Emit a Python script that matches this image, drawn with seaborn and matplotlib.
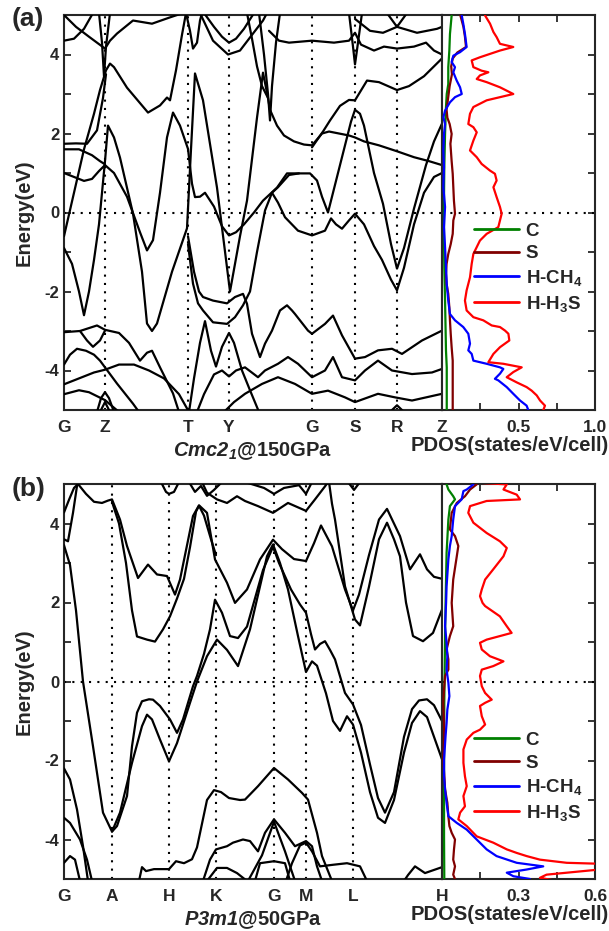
import matplotlib
matplotlib.use("Agg")
import matplotlib.pyplot as plt
import seaborn as sns

sns.set_style("ticks")
plt.rcParams["font.family"] = ["Liberation Sans", "DejaVu Sans"]
plt.rcParams["font.weight"] = "bold"
plt.rcParams["axes.unicode_minus"] = False
plt.rcParams["mathtext.fontset"] = "custom"
plt.rcParams["mathtext.rm"] = "Liberation Sans:bold"
plt.rcParams["mathtext.it"] = "Liberation Sans:italic:bold"
plt.rcParams["mathtext.bf"] = "Liberation Sans:italic:bold"

# ---------------- panel (a) data ----------------
kpos_a = [0, 41, 124, 165, 248, 291, 333, 378]
klab_a = ["G", "Z", "T", "Y", "G", "S", "R", "Z"]
title_a = r"$\mathbf{Cmc2_1}$@150GPa"

bands_a = [
    [(0,5.0),(12,4.7),(25,4.45),(33,4.3),(41,4.15),(46,4.35),(53,4.53),(69,4.86),(88,4.78),(106,4.94),(119,5.05)],
    [(0,4.35),(10,4.4),(20,4.65),(29,5.05)],
    [(35,5.05),(38,4.3),(40,3.45),(42,4.2),(46,5.05)],
    [(0,-0.6),(10,0.5),(20,1.6),(30,2.5),(36,3.1),(42,3.6),(46,3.77),(50,3.68),(63,3.16),(84,2.53),(96,2.71),(103,2.91),(106,2.84),(112,3.6),(118,4.5),(122,5.05)],
    [(0,1.74),(12,1.75),(23,1.74),(33,2.08),(39,2.9),(42,3.5)],
    [(0,1.6),(15,1.6),(28,1.45),(36,1.3),(41,1.22)],
    [(0,1.0),(10,0.9),(20,0.8),(28,0.85),(35,1.05),(41,1.2),(50,1.0),(63,0.4),(76,-0.5),(83,-0.96),(89,-0.7),(96,0.5),(103,1.9),(109,2.53),(116,2.2),(124,1.61),(128,0.73),(131,0.39),(136,0.4),(141,0.5),(150,0.15),(158,-0.35),(165,-0.58),(172,-0.5),(180,-0.3),(190,0.0),(199,0.3),(213,0.63),(223,0.99),(246,0.99),(253,0.81),(258,0.4),(264,0.0),(272,0.8),(280,1.6),(287,2.3),(291,2.6),(296,2.5),(300,2.2),(310,1.0),(319,0.22),(327,-0.8),(333,-1.42),(340,-0.9),(350,0.1),(362,1.2),(370,1.8),(378,2.25)],
    [(0,-0.9),(8,-1.3),(15,-2.0),(20,-2.6),(25,-2.0),(30,-1.2),(35,-0.3),(38,0.5),(41,1.3),(44,2.2),(50,1.9),(56,1.39),(69,-0.03),(78,-1.5),(83,-2.81),(88,-3.0),(93,-2.81),(108,-1.5),(123,-0.4),(127,1.6),(131,3.52),(139,2.84),(153,0.63),(166,-2.0),(176,-0.6),(183,0.3),(193,2.4),(199,3.54),(204,2.9),(206,2.6),(213,2.2),(220,1.95),(230,1.8),(240,1.72),(248,1.7),(258,2.0),(265,2.05),(275,2.0),(285,1.95),(291,1.9),(300,1.8),(315,1.7),(333,1.55),(350,1.4),(365,1.3),(378,1.2)],
    [(183,5.05),(188,4.4),(193,3.7),(198,3.2),(204,2.9)],
    [(248,1.65),(259,2.05),(266,2.33),(276,2.7),(285,2.85),(291,2.84),(303,3.34),(315,3.3),(333,3.1),(345,3.2),(360,3.45),(370,3.7),(378,3.9)],
    [(208,0.5),(214,0.25),(221,-0.12),(234,-0.46),(248,-0.58),(261,-0.46),(267,-0.15),(272,-0.3),(278,-0.41),(285,-0.2),(291,-0.03),(300,-0.3),(310,-0.85),(318,-1.2),(327,-1.7),(333,-1.97),(340,-1.4),(350,-0.3),(360,0.5),(370,0.9),(378,1.0)],
    [(124,-0.8),(129,-1.8),(134,-2.3),(139,-2.48),(149,-2.78),(163,-2.82),(171,-2.65),(179,-2.35),(186,-2.0),(193,-1.0),(201,0.05),(208,0.5),(214,0.64),(225,0.95),(235,0.99)],
    [(124,-0.6),(130,-1.5),(135,-2.0),(139,-2.14),(149,-2.23),(163,-2.3),(171,-2.14),(179,-2.06),(183,-2.31),(188,-3.07),(196,-3.66),(201,-3.32),(208,-2.99),(216,-2.48),(223,-2.35),(228,-2.48),(231,-2.57),(244,-2.99),(248,-3.07),(261,-2.82),(269,-2.61),(278,-3.11),(291,-3.7),(301,-3.66),(314,-3.49),(328,-3.45),(338,-3.58),(358,-3.24),(378,-2.99)],
    [(0,-3.03),(16,-3.0),(33,-2.86),(41,-2.97),(55,-3.05),(65,-3.3),(76,-3.75),(83,-3.55),(88,-3.5),(96,-3.92),(109,-4.58),(115,-5.05)],
    [(16,-3.0),(23,-3.24),(29,-3.4),(36,-3.24),(41,-2.99)],
    [(0,-3.85),(6,-3.6),(13,-3.45),(22,-3.5),(30,-3.6),(36,-3.75),(53,-4.33),(69,-4.84),(75,-5.05)],
    [(0,-4.35),(15,-4.2),(30,-4.05),(41,-3.98),(55,-3.85),(70,-3.85),(85,-4.0),(100,-4.2),(115,-4.6),(125,-5.05)],
    [(0,-4.6),(15,-4.5),(25,-4.55),(41,-4.75),(55,-5.05)],
    [(33,-5.05),(37,-4.7),(41,-4.55),(45,-4.7),(50,-5.05)],
    [(36,-5.05),(41,-4.8),(46,-5.05)],
    [(133,-5.05),(140,-4.6),(150,-4.1),(158,-4.0),(165,-4.15),(172,-4.0),(181,-3.92),(194,-4.17),(201,-4.0),(214,-3.83),(224,-3.66),(234,-3.83),(248,-4.17),(261,-4.0),(269,-3.66),(278,-4.17),(291,-4.25),(301,-4.0),(314,-3.75),(328,-4.0),(348,-4.09),(368,-4.05),(378,-3.96)],
    [(160,-5.05),(170,-4.8),(181,-4.59),(198,-4.34),(214,-4.17),(231,-4.34),(248,-4.59),(264,-4.51),(281,-4.68),(291,-4.8),(314,-4.59),(331,-4.68),(348,-4.76),(378,-4.59)],
    [(326,-5.05),(333,-4.88),(340,-5.05)],
    [(125,-5.05),(130,-4.2),(136,-3.3),(141,-2.75),(147,-3.5),(152,-3.9),(158,-3.4),(165,-3.05),(170,-3.3),(178,-4.0),(186,-4.5),(195,-5.05)],
    [(205,4.6),(215,4.35),(225,4.3),(248,4.35),(270,4.3),(285,4.35),(291,4.55),(297,4.25),(310,4.1),(320,4.2),(333,4.15),(350,4.2),(362,4.3),(370,4.1),(378,4.0)],
    [(291,4.9),(306,4.6),(319,4.55),(333,4.7),(353,4.55),(373,4.65),(378,4.7)],
    [(122,5.05),(126,4.6),(129,4.15),(133,4.3),(136,4.86),(138,5.05)],
    [(136,5.05),(149,4.35),(164,4.0),(176,4.1),(189,4.53),(199,4.86),(203,5.05)],
    [(140,5.05),(150,4.7),(158,4.45),(165,4.3),(172,4.4),(180,4.65),(190,5.05)],
    [(195,5.05),(200,4.0),(204,3.0),(206,2.33),(208,3.2),(212,4.3),(216,5.05)],
    [(285,5.05),(289,4.2),(291,3.75),(294,4.3),(298,5.05)],
    [(323,5.05),(333,4.7),(343,5.05)],
]

dos_a_C = [(0.063,4.99),(0.052,4.52),(0.048,4.1),(0.041,3.68),(0.041,3.25),(0.031,3.0),(0.026,2.67),(0.02,1.99),(0.015,1.15),(0.013,0.3),(0.013,-0.54),(0.015,-1.38),(0.02,-2.23),(0.024,-3.07),(0.026,-3.49),(0.031,-3.92),(0.031,-4.34),(0.031,-5.0)]
dos_a_S = [(0.12,4.99),(0.14,4.7),(0.15,4.45),(0.157,4.19),(0.1,4.05),(0.07,3.9),(0.06,3.7),(0.065,3.5),(0.05,3.2),(0.04,2.9),(0.03,2.6),(0.035,2.4),(0.05,2.24),(0.063,1.99),(0.055,1.74),(0.063,1.3),(0.07,0.98),(0.074,0.64),(0.078,0.3),(0.085,-0.03),(0.074,-0.2),(0.07,-0.54),(0.057,-0.8),(0.041,-1.05),(0.03,-1.3),(0.026,-1.55),(0.03,-1.81),(0.041,-2.06),(0.048,-2.4),(0.052,-2.73),(0.057,-3.07),(0.063,-3.41),(0.07,-3.75),(0.07,-4.1),(0.07,-4.42),(0.07,-4.76),(0.07,-5.0)]
dos_a_HCH4 = [(0.129,4.99),(0.139,4.78),(0.150,4.52),(0.161,4.19),(0.118,4.06),(0.074,3.97),(0.063,3.81),(0.085,3.68),(0.074,3.55),(0.096,3.34),(0.118,3.17),(0.129,3.00),(0.085,2.92),(0.052,2.79),(0.020,2.58),(0.009,2.41),(0.020,2.24),(0.013,1.99),(0.009,1.57),(0.013,1.15),(0.009,0.64),(0.020,0.14),(0.013,-0.37),(0.020,-0.88),(0.026,-1.38),(0.031,-1.81),(0.041,-2.23),(0.052,-2.57),(0.085,-2.73),(0.139,-2.90),(0.172,-3.07),(0.183,-3.32),(0.172,-3.49),(0.194,-3.58),(0.205,-3.75),(0.292,-3.83),(0.379,-3.92),(0.401,-3.96),(0.379,-4.08),(0.346,-4.21),(0.368,-4.25),(0.423,-4.42),(0.466,-4.59),(0.510,-4.76),(0.553,-4.89),(0.564,-5.0)]
dos_a_HH3S = [(0.281,4.99),(0.314,4.78),(0.336,4.57),(0.357,4.44),(0.379,4.27),(0.466,4.19),(0.379,4.10),(0.248,3.93),(0.194,3.85),(0.205,3.68),(0.259,3.59),(0.303,3.55),(0.248,3.47),(0.227,3.38),(0.292,3.30),(0.379,3.17),(0.466,3.00),(0.379,2.92),(0.292,2.84),(0.205,2.67),(0.183,2.50),(0.172,2.24),(0.205,2.16),(0.227,2.03),(0.205,1.82),(0.183,1.57),(0.227,1.40),(0.259,1.23),(0.314,1.06),(0.346,0.98),(0.357,0.81),(0.336,0.64),(0.357,0.39),(0.379,0.14),(0.390,-0.03),(0.379,-0.20),(0.368,-0.37),(0.292,-0.54),(0.248,-0.71),(0.205,-1.05),(0.194,-1.30),(0.183,-1.64),(0.161,-1.97),(0.150,-2.23),(0.161,-2.48),(0.205,-2.65),(0.270,-2.73),(0.325,-2.86),(0.379,-2.90),(0.412,-2.99),(0.434,-3.07),(0.440,-3.24),(0.379,-3.41),(0.336,-3.58),(0.303,-3.79),(0.401,-3.83),(0.521,-3.92),(0.466,-4.04),(0.423,-4.17),(0.488,-4.30),(0.553,-4.42),(0.586,-4.51),(0.619,-4.63),(0.641,-4.76),(0.673,-4.89),(0.662,-5.0)]

# ---------------- panel (b) data ----------------
kpos_b = [0, 48, 105, 152, 210, 242, 289, 378]
klab_b = ["G", "A", "H", "K", "G", "M", "L", "H"]
title_b = r"$\mathbf{P3m1}$@50GPa"

bands_b = [
    [(0,4.28),(5,4.6),(10,4.9),(14,5.0),(22,4.75),(30,4.55),(38,4.52),(44,4.58),(48,4.61),(56,4.1),(63,3.43),(74,2.62),(84,2.96),(93,2.71),(103,2.67),(111,2.2),(116,2.58),(129,4.19),(135,4.46),(143,4.27),(151,3.09),(163,2.5),(171,1.99),(183,2.33),(196,3.09),(209,3.59),(218,3.35),(230,3.1),(242,3.05),(250,3.5),(257,3.95),(268,3.42),(281,2.33),(289,1.8),(295,2.2),(305,3.2),(315,4.1),(323,4.37),(336,3.68),(346,2.84),(356,3.22),(363,2.84),(370,2.65),(378,2.6)],
    [(48,4.55),(55,4.0),(62,3.0),(68,1.8),(73,1.14),(83,1.06),(91,1.01),(99,1.32),(106,1.65),(113,2.1),(120,2.6),(126,3.4),(132,4.3),(135,4.45),(140,4.2),(147,3.6),(152,3.2)],
    [(0,3.45),(6,2.95),(12,1.8),(19,0.0),(29,-1.64),(39,-3.32),(48,-3.8),(53,-3.66),(63,-2.9),(68,-1.64),(73,-0.79),(78,-0.5),(85,-0.45),(89,-0.46),(96,-0.62),(106,-0.96),(113,-1.3),(119,-0.96),(129,-0.12),(133,0.14),(140,0.7),(146,1.32),(151,2.07),(158,1.74),(166,1.15),(174,1.1),(183,1.39),(199,2.82),(209,3.41),(215,3.0),(227,2.33),(236,1.95),(242,1.74),(247,1.2),(251,0.81),(256,0.95),(261,1.02),(266,0.8),(271,0.56),(281,-0.29),(289,-0.58),(297,-1.1),(306,-2.1),(314,-2.95),(321,-3.32),(330,-2.8),(340,-1.4),(348,-0.7),(355,-0.48),(363,-0.45),(370,-0.6),(378,-1.0)],
    [(48,-3.8),(56,-3.32),(68,-2.06),(78,-1.13),(83,-0.84),(88,-0.96),(96,-1.47),(105,-2.02),(113,-1.56),(126,-0.54),(133,0.0),(143,0.64),(153,1.06),(163,0.8),(174,0.39),(186,1.32),(203,3.17),(209,3.47),(216,3.0),(224,2.33),(234,1.15),(242,0.24),(248,0.51),(253,0.4),(262,-0.3),(269,-1.0),(276,-1.25),(283,-0.88),(289,-1.09),(297,-1.8),(306,-2.8),(314,-3.45),(321,-3.58),(330,-3.0),(340,-1.8),(348,-1.05),(356,-0.75),(363,-0.9),(370,-1.4),(378,-1.97)],
    [(265,5.05),(268,4.5),(271,4.1),(281,2.41),(291,1.57),(296,1.42),(305,2.4),(315,3.6),(323,4.02),(330,3.6),(336,3.17),(342,2.0),(349,1.15),(359,1.02),(369,1.23),(378,1.82)],
    [(0,3.6),(4,3.55),(9,4.27),(13,4.95),(14,5.05)],
    [(97,5.05),(102,4.8),(105,4.75),(110,4.8),(115,5.05)],
    [(138,5.05),(143,4.78),(153,4.61),(163,4.52),(173,4.69),(181,4.57),(194,4.44),(209,4.27),(224,4.52),(242,4.32),(251,4.61),(261,4.94),(264,5.05)],
    [(181,5.05),(200,4.9),(210,4.75),(220,4.9),(235,4.97),(242,4.75),(248,5.05)],
    [(125,5.05),(131,4.8),(137,4.95),(143,4.7),(150,4.85),(158,5.05)],
    [(284,5.05),(290,4.85),(296,5.05)],
    [(0,-2.2),(6,-2.48),(13,-3.24),(19,-4.17),(24,-5.05)],
    [(0,-3.45),(6,-3.58),(16,-4.0),(23,-4.51),(28,-5.05)],
    [(0,-4.59),(6,-4.42),(11,-4.51),(16,-5.05)],
    [(75,-5.05),(78,-4.7),(82,-4.8),(90,-4.75),(98,-4.75),(105,-4.75),(112,-4.55),(120,-4.6),(128,-4.5),(133,-4.2),(138,-3.6),(143,-3.0),(150,-2.75),(157,-2.8),(165,-2.95),(176,-3.0),(181,-2.99),(194,-2.65),(210,-2.19),(224,-2.48),(238,-2.82),(244,-2.99),(253,-3.83),(258,-4.42),(268,-5.05)],
    [(139,-5.05),(146,-4.51),(152,-4.25),(163,-4.17),(169,-4.08),(179,-4.0),(186,-4.04),(194,-4.3),(201,-3.83),(210,-3.49),(221,-3.83),(231,-4.17),(242,-4.04),(248,-4.17),(253,-4.68),(258,-5.05)],
    [(184,-5.05),(198,-4.4),(210,-3.55),(221,-4.3),(231,-5.05)],
    [(191,-5.05),(196,-4.6),(210,-4.55),(221,-4.6),(226,-5.05)],
    [(143,-5.05),(153,-4.72),(163,-4.72),(173,-4.85),(183,-5.05)],
    [(222,-5.05),(228,-4.6),(236,-4.15),(242,-4.08),(248,-4.3),(256,-4.68),(269,-4.64),(283,-4.6),(296,-4.68),(303,-5.05)],
    [(340,-5.05),(344,-4.9),(351,-4.68),(361,-4.85),(378,-4.7)],
]

dos_b_C = [(0.018,4.99),(0.025,4.86),(0.044,4.69),(0.051,4.61),(0.031,4.44),(0.025,4.10),(0.018,3.26),(0.014,1.99),(0.012,1.15),(0.009,-0.54),(0.008,-2.23),(0.008,-3.92),(0.009,-5.0)]
dos_b_S = [(0.136,4.99),(0.110,4.86),(0.090,4.69),(0.058,4.52),(0.038,4.27),(0.031,3.85),(0.051,3.68),(0.064,3.43),(0.058,3.17),(0.044,2.58),(0.038,1.99),(0.044,1.40),(0.031,1.15),(0.018,0.81),(0.025,0.56),(0.025,0.30),(0.012,0.14),(0.008,-0.20),(0.005,-0.54),(0.008,-1.05),(0.008,-1.38),(0.005,-1.97),(0.012,-2.73),(0.021,-3.07),(0.025,-3.41),(0.029,-3.66),(0.038,-3.83),(0.051,-4.00),(0.047,-4.25),(0.044,-4.51),(0.051,-4.68),(0.044,-4.89),(0.051,-5.0)]
dos_b_HCH4 = [(0.123,4.99),(0.097,4.86),(0.084,4.82),(0.077,4.61),(0.051,4.44),(0.044,4.10),(0.038,3.68),(0.031,3.43),(0.025,3.09),(0.018,2.41),(0.016,1.99),(0.012,1.40),(0.018,0.98),(0.021,0.64),(0.018,0.30),(0.025,-0.03),(0.029,-0.37),(0.021,-0.71),(0.018,-1.05),(0.014,-1.38),(0.008,-1.97),(0.008,-2.40),(0.012,-2.73),(0.018,-3.07),(0.025,-3.41),(0.058,-3.58),(0.097,-3.75),(0.136,-4.00),(0.175,-4.25),(0.214,-4.42),(0.293,-4.59),(0.397,-4.68),(0.332,-4.76),(0.254,-4.84),(0.280,-4.93),(0.345,-5.0)]
dos_b_HH3S = [(0.149,5.03),(0.254,4.99),(0.241,4.86),(0.293,4.73),(0.306,4.61),(0.175,4.57),(0.110,4.44),(0.103,4.27),(0.123,4.02),(0.175,3.76),(0.227,3.55),(0.254,3.38),(0.241,3.17),(0.201,2.84),(0.169,2.58),(0.156,2.33),(0.149,2.16),(0.159,1.99),(0.169,1.91),(0.227,1.65),(0.254,1.40),(0.273,1.23),(0.227,1.15),(0.175,1.06),(0.149,0.98),(0.156,0.81),(0.188,0.64),(0.241,0.51),(0.201,0.39),(0.156,0.30),(0.149,0.14),(0.156,-0.12),(0.169,-0.29),(0.195,-0.46),(0.169,-0.54),(0.149,-0.62),(0.156,-0.88),(0.169,-1.09),(0.149,-1.22),(0.123,-1.30),(0.097,-1.47),(0.084,-1.72),(0.084,-2.06),(0.090,-2.40),(0.097,-2.65),(0.084,-2.90),(0.090,-3.16),(0.071,-3.32),(0.064,-3.49),(0.097,-3.66),(0.136,-3.92),(0.201,-4.08),(0.254,-4.25),(0.293,-4.34),(0.332,-4.42),(0.384,-4.51),(0.489,-4.59),(0.65,-4.62),(0.65,-4.74),(0.410,-4.89),(0.384,-4.97),(0.45,-5.05)]

species = ["C", "S", "H-CH$_4$", "H-H$_3$S"]
species_colors = ["#008000", "#800000", "#0000ff", "#ff0000"]

# ---------------- drawing ----------------
W, H = 609, 931
fig = plt.figure(figsize=(W / 100, H / 100), dpi=100)

DOT = (0, (1, 3))


def panel(top_px, bands, kpos, klab, title, dos_list, xmax, xmajor, xminor, leg_y):
    ax = fig.add_axes([64 / W, 1 - (top_px + 395) / H, 378 / W, 395 / H])
    axd = fig.add_axes([442 / W, 1 - (top_px + 395) / H, 153 / W, 395 / H])
    for a in (ax, axd):
        a.axhline(0, color="black", lw=1.5, ls=DOT, zorder=1)
        for s in a.spines.values():
            s.set_linewidth(1.5)
    for kp in kpos[1:-1]:
        ax.axvline(kp, color="black", lw=1.5, ls=DOT, zorder=1)
    for pts in bands:
        sns.lineplot(x=[p[0] for p in pts], y=[p[1] for p in pts], ax=ax,
                     color="black", linewidth=1.6, sort=False, estimator=None,
                     legend=False, zorder=3)
    ax.set_xlim(kpos[0], kpos[-1])
    ax.set_ylim(-5, 5)
    ax.set_xticks(kpos)
    ax.set_xticklabels(klab, fontsize=12.5, fontweight="bold")
    ax.tick_params(axis="x", length=0, pad=7)
    ax.set_yticks([-4, -2, 0, 2, 4])
    ax.set_yticks([-5, -3, -1, 1, 3, 5], minor=True)
    ax.tick_params(axis="y", which="both", direction="in", length=5, width=1.3,
                   labelsize=12, right=False)
    ax.tick_params(axis="y", which="minor", length=5)
    ax.set_ylabel("Energy(eV)", fontsize=14.5, fontweight="bold", labelpad=8)
    ax.set_xlabel(title, fontsize=14.5, fontweight="bold", labelpad=4)

    for (pts, lab, col) in zip(dos_list, species, species_colors):
        sns.lineplot(x=[p[0] for p in pts], y=[p[1] for p in pts], ax=axd,
                     color=col, linewidth=1.6, sort=False, estimator=None,
                     label=lab, zorder=3)
    axd.set_xlim(0, xmax)
    axd.set_ylim(-5, 5)
    axd.set_xticks(xmajor)
    axd.set_xticklabels([f"{v:.1f}" for v in xmajor], fontsize=12.5, fontweight="bold")
    axd.set_xticks(xminor, minor=True)
    axd.tick_params(axis="x", which="both", direction="in", length=5, width=1.3,
                    top=True, bottom=True, pad=7)
    axd.set_yticks(range(-5, 6))
    axd.tick_params(axis="y", which="both", direction="in", length=5, width=1.3,
                    left=False, right=True, labelleft=False, labelright=False)
    axd.set_ylabel("")
    axd.set_xlabel("PDOS(states/eV/cell)", fontsize=14.5, fontweight="bold")
    axd.xaxis.set_label_coords(0.44, -0.067)
    leg = axd.legend(loc="upper left", bbox_to_anchor=(0.21, leg_y), frameon=False,
                     fontsize=13.5, handlelength=2.4, handletextpad=0.35,
                     labelspacing=0.3, borderpad=0, borderaxespad=0)
    for t in leg.get_texts():
        t.set_fontweight("bold")
    for l in leg.get_lines():
        l.set_linewidth(2.0)
    return ax, axd


panel(15, bands_a, kpos_a, klab_a, title_a,
      [dos_a_C, dos_a_S, dos_a_HCH4, dos_a_HH3S], 1.0, [0.5, 1.0], [0.25, 0.75], 0.475)
panel(484, bands_b, kpos_b, klab_b, title_b,
      [dos_b_C, dos_b_S, dos_b_HCH4, dos_b_HH3S], 0.6, [0.3, 0.6], [0.15, 0.45], 0.373)

fig.text(12 / W, 1 - 19 / H, "(a)", fontsize=19, fontweight="bold", va="center", ha="left")
fig.text(12 / W, 1 - 489 / H, "(b)", fontsize=19, fontweight="bold", va="center", ha="left")

fig.savefig("out.png", dpi=100)
